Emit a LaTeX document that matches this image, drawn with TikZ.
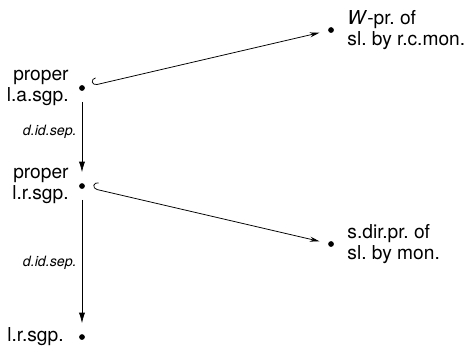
\documentclass[tikz,border=0pt]{standalone}
\usepackage{fontspec}
\setmainfont{TeX Gyre Heros}
\usetikzlibrary{arrows.meta}

\begin{document}
\begin{tikzpicture}[
    pt/.style  ={circle, fill=black, inner sep=0pt, minimum size=3pt},
    lbl/.style ={font=\fontsize{10}{10.6}\selectfont, inner sep=0pt},
    sep/.style ={font=\fontsize{7.4}{8}\selectfont\itshape, inner sep=0pt, anchor=east},
    imp/.style ={-{Latex[length=5.5pt,width=3.2pt]}, thin, shorten <=5.5pt, shorten >=5.5pt},
    inc/.style ={{Hooks[right,length=2.4pt,width=7.5pt]}-{Stealth[length=5pt,width=2.6pt]}, thin,
                 shorten <=4pt, shorten >=4.5pt}
  ]
  \useasboundingbox (0,0) rectangle (8.5,6.339);

  %% ---- left column ------------------------------------------------
  \node[pt] (las)  at (1.502,4.727) {};
  \node[pt] (plrs) at (1.502,2.931) {};
  \node[pt] (lrs)  at (1.502,0.165) {};
  \node[lbl, anchor=east, align=right] (tlas)  at (1.264,4.727) {proper\\l.a.sgp.};
  \node[lbl, anchor=east, align=right] (tplrs) at (1.264,2.931) {proper\\l.r.sgp.};
  \node[lbl, anchor=east]              (tlrs)  at (1.172,0.165) {l.r.sgp.};

  %% ---- right column -----------------------------------------------
  \node[pt] (wpr) at (6.064,5.789) {};
  \node[pt] (sdp) at (6.064,1.869) {};
  \node[lbl, anchor=west, align=left] (twpr) at (6.357,5.789) {\textit{W}-pr.\ of\\sl.\ by r.c.mon.};
  \node[lbl, anchor=west, align=left] (tsdp) at (6.357,1.869) {s.dir.pr.\ of\\sl.\ by mon.};

  %% ---- connectors -------------------------------------------------
  \draw[imp] (las) -- (plrs) node[sep] (s1) at (1.411,3.920) {d.id.sep.};
  \draw[imp] (plrs) -- (lrs) node[sep] (s2) at (1.411,1.521) {d.id.sep.};
  \draw[inc] (las) -- (wpr);
  \draw[inc] (plrs) -- (sdp);

\end{tikzpicture}
\end{document}
